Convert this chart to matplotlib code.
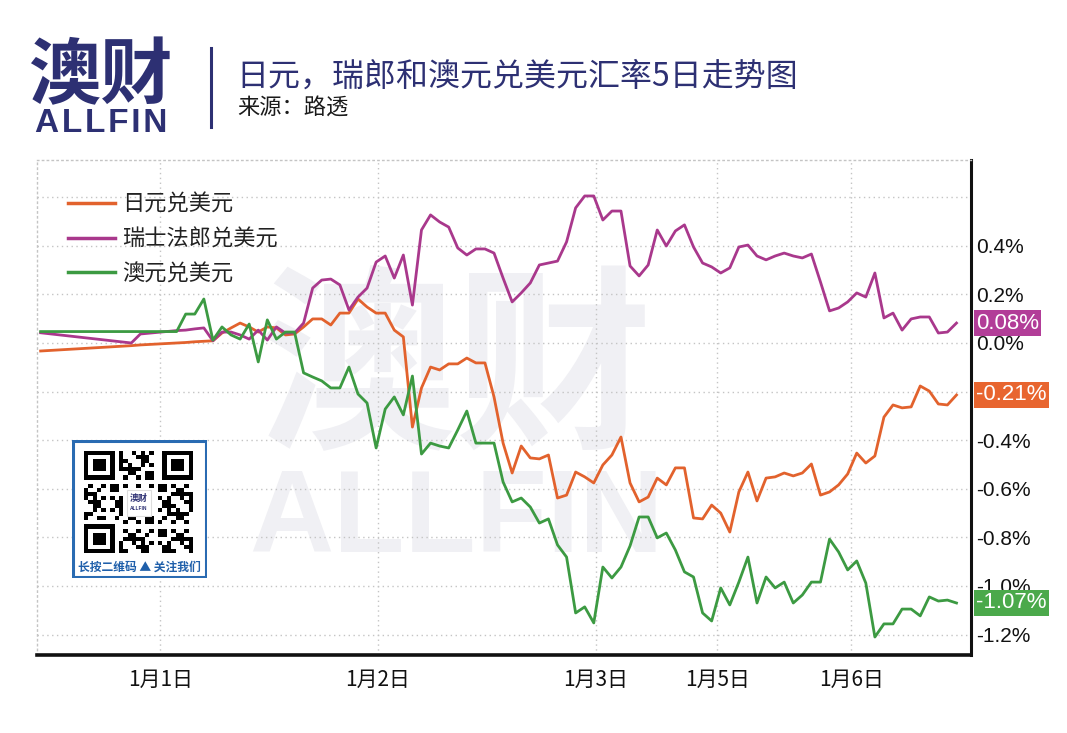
import matplotlib
matplotlib.use("Agg")
import matplotlib.pyplot as plt
import numpy as np
from matplotlib.patches import Rectangle
from matplotlib.lines import Line2D

plt.rcParams['font.family'] = ['Noto Sans CJK SC', 'DejaVu Sans']

# ---------------- data ----------------
x_pos = [-19, -9, -8, -4, -3, -2, -1] + list(range(83))

jpy = [-0.033, -0.011, -0.008, 0.000, 0.002, 0.005, 0.007,
       0.009, 0.041, 0.062, 0.082, 0.066, 0.045, 0.066, 0.062, 0.033, 0.037,
       0.066, 0.099, 0.099, 0.074, 0.123, 0.123, 0.181, 0.148, 0.123, 0.123,
       0.053, 0.025, -0.346, -0.185, -0.099, -0.111, -0.086, -0.086, -0.062, -0.082,
       -0.082, -0.222, -0.412, -0.535, -0.424, -0.473, -0.477, -0.461, -0.638, -0.626,
       -0.531, -0.551, -0.576, -0.502, -0.461, -0.387, -0.576, -0.654, -0.634, -0.556,
       -0.584, -0.514, -0.514, -0.720, -0.724, -0.667, -0.700, -0.778, -0.613, -0.531,
       -0.650, -0.556, -0.551, -0.535, -0.547, -0.535, -0.498, -0.626, -0.613, -0.584,
       -0.539, -0.453, -0.494, -0.465, -0.305, -0.255, -0.267, -0.263, -0.177, -0.198,
       -0.251, -0.255, -0.214]

chf = [0.042, 0.000, 0.037, 0.051, 0.053, 0.058, 0.062,
       0.009, 0.045, 0.045, 0.033, 0.016, 0.053, 0.012, 0.066, 0.041, 0.041,
       0.082, 0.226, 0.259, 0.263, 0.239, 0.136, 0.189, 0.226, 0.333, 0.358,
       0.267, 0.362, 0.156, 0.465, 0.527, 0.498, 0.477, 0.391, 0.362, 0.387,
       0.387, 0.370, 0.267, 0.169, 0.206, 0.247, 0.321, 0.329, 0.337, 0.416,
       0.556, 0.605, 0.605, 0.506, 0.543, 0.543, 0.317, 0.276, 0.321, 0.465,
       0.399, 0.461, 0.486, 0.395, 0.329, 0.313, 0.288, 0.309, 0.395, 0.403,
       0.358, 0.342, 0.358, 0.370, 0.358, 0.350, 0.366, 0.251, 0.132, 0.144,
       0.169, 0.206, 0.189, 0.288, 0.103, 0.123, 0.053, 0.099, 0.107, 0.107,
       0.041, 0.045, 0.082]

aud = [0.047, 0.047, 0.047, 0.047, 0.119, 0.119, 0.181,
       0.012, 0.066, 0.033, 0.016, 0.078, -0.078, 0.095, 0.016, 0.045, 0.045,
       -0.123, -0.140, -0.156, -0.185, -0.185, -0.099, -0.210, -0.247, -0.432, -0.272,
       -0.222, -0.296, -0.136, -0.457, -0.412, -0.424, -0.432, -0.358, -0.280, -0.412,
       -0.412, -0.412, -0.572, -0.654, -0.638, -0.675, -0.741, -0.724, -0.831, -0.881,
       -1.111, -1.086, -1.152, -0.922, -0.967, -0.922, -0.835, -0.716, -0.716, -0.802,
       -0.782, -0.852, -0.942, -0.963, -1.111, -1.144, -1.008, -1.078, -0.984, -0.881,
       -1.070, -0.963, -1.008, -0.984, -1.070, -1.037, -0.984, -0.984, -0.807, -0.860,
       -0.934, -0.897, -0.988, -1.210, -1.156, -1.156, -1.095, -1.095, -1.123, -1.045,
       -1.062, -1.058, -1.070]

series_names = ['日元兑美元', '瑞士法郎兑美元', '澳元兑美元']
end_labels = ['-0.21%', '0.08%', '-1.07%']
xtick_pos = [-5.8, 18.2, 42.2, 55.6, 70.4]
xtick_labels = ['1月1日', '1月2日', '1月3日', '1月5日', '1月6日']
ytick_vals = [0.6, 0.4, 0.2, 0.0, -0.2, -0.4, -0.6, -0.8, -1.0, -1.2]
ytick_labels = ['', '0.4%', '0.2%', '0.0%', '', '-0.4%', '-0.6%', '-0.8%', '-1.0%', '-1.2%']

title = '日元，瑞郎和澳元兑美元汇率5日走势图'
subtitle = '来源：路透'
logo_cn = '澳财'
logo_en = 'ALLFIN'
qr_caption = '长按二维码 ▲ 关注我们'

line_colors = ['#E2622D', '#A9388C', '#3C9A42']
box_colors = ['#E8652F', '#B23D98', '#4BA94B']
navy = '#2D3073'

# ---------------- figure ----------------
W, H = 1067, 733
fig = plt.figure(figsize=(W / 100, H / 100), dpi=100)
fig.patch.set_facecolor('white')

def fx(px):
    return px / W

def fy(py):
    return 1 - py / H

ax = fig.add_axes([fx(37), fy(655), fx(971) - fx(37), fy(160) - fy(655)])
ax.set_xlim(-19.4, 83.6)
ax.set_ylim(-1.284, 0.753)
ax.set_axisbelow(True)

for vals, c, name in zip([jpy, chf, aud], line_colors, series_names):
    ax.plot(x_pos, vals, color=c, lw=2.0, label=name, zorder=3)

# grid / ticks
grid_kw = dict(color='#c4c4c4', lw=1.0, linestyle=(0, (1, 2.5)))
ax.set_xticks(xtick_pos)
ax.set_xticklabels(xtick_labels, fontsize=15, color='#111111')
ax.set_yticks(ytick_vals)
ax.set_yticklabels(ytick_labels, fontsize=15, color='#111111',
                   family=['Liberation Sans', 'DejaVu Sans'])
ax.yaxis.tick_right()
ax.tick_params(axis='y', length=0, pad=4)
ax.tick_params(axis='x', length=0, pad=10)
ax.grid(True, **grid_kw)

for s in ['top', 'left']:
    ax.spines[s].set_color('#c4c4c4')
    ax.spines[s].set_linestyle((0, (1, 2.5)))
    ax.spines[s].set_linewidth(1.0)
ax.spines['bottom'].set_color('#111111')
ax.spines['bottom'].set_linewidth(2.6)
ax.spines['right'].set_color('#111111')
ax.spines['right'].set_linewidth(2.2)

# end-value boxes
for vals, c, lab in zip([jpy, chf, aud], box_colors, end_labels):
    ax.annotate(lab, xy=(1, vals[-1]), xycoords=('axes fraction', 'data'),
                xytext=(3.5, 0), textcoords='offset points', ha='left', va='center',
                fontsize=16, color='white', family=['Liberation Sans', 'DejaVu Sans'],
                bbox=dict(boxstyle='square,pad=0.1', fc=c, ec='none'),
                annotation_clip=False, zorder=5)

# legend
leg = ax.legend(loc='upper left', bbox_to_anchor=((68 - 37) / 934, (655 - 193) / 495),
                borderaxespad=0, borderpad=0, frameon=False, handlelength=2.1,
                handletextpad=0.35, labelspacing=0.52, fontsize=16)
for t in leg.get_texts():
    t.set_color('#222222')
for h in leg.get_lines():
    h.set_linewidth(2.5)

# watermark inside plot
ax.text(fx(456), fy(376), logo_cn, transform=fig.transFigure, ha='center', va='center',
        fontsize=142, fontweight='bold', color='#F0F0F4', zorder=0.2)
ax.text(fx(456), fy(521), logo_en, transform=fig.transFigure, ha='center', va='center',
        fontsize=84, fontweight='bold', color='#F0F0F4', zorder=0.2,
        family=['Liberation Sans', 'DejaVu Sans'])

# ---------------- header ----------------
fig.text(fx(100), fy(77), logo_cn, ha='center', va='center', fontsize=52,
         fontweight='bold', color=navy)
fig.text(fx(101), fy(123), '\u200a'.join(logo_en), ha='center', va='center', fontsize=24,
         fontweight='bold', color=navy, family=['Liberation Sans', 'DejaVu Sans'])
fig.add_artist(Line2D([fx(211), fx(211)], [fy(48), fy(127)], color=navy, lw=2.2))
fig.text(fx(236), fy(77), title, ha='left', va='center', fontsize=23,
         fontweight='medium', color=navy)
fig.text(fx(237), fy(108), subtitle, ha='left', va='center', fontsize=16,
         color='#1a1a1a')

# ---------------- QR badge ----------------
qax = fig.add_axes([fx(72), fy(578), fx(207) - fx(72), fy(440) - fy(578)])
qax.axis('off')
n = 25
ii, jj = np.mgrid[0:n, 0:n]
qr = (((ii * 31 + jj * 17 + ii * jj * 7) % 11) < 5).astype(float)
for r, c in [(0, 0), (0, 18), (18, 0)]:
    r0, r1 = max(r - 1, 0), min(r + 8, n)
    c0, c1 = max(c - 1, 0), min(c + 8, n)
    qr[r0:r1, c0:c1] = 0
    qr[r:r + 7, c:c + 7] = 1
    qr[r + 1:r + 6, c + 1:c + 6] = 0
    qr[r + 2:r + 5, c + 2:c + 5] = 1
qr[9:16, 9:16] = 0
qax.imshow(qr, cmap='Greys', vmin=0, vmax=1, extent=(12, 121, 25, 127),
           interpolation='nearest', aspect='auto', zorder=2)
qax.set_xlim(0, 135)
qax.set_ylim(0, 138)
qax.add_patch(Rectangle((1, 1), 133, 136, fc='white', ec='none', zorder=0.5))
qax.add_patch(Rectangle((1, 1), 133, 136, fc='none', ec='#2A6BB2', lw=2.2, zorder=4))
qax.add_patch(Rectangle((55, 62), 24, 26, fc='white', ec='#dddddd', lw=0.8, zorder=3))
qax.text(67, 79, logo_cn, ha='center', va='center', fontsize=6.5, fontweight='bold',
         color=navy, zorder=5)
qax.text(67, 69, logo_en, ha='center', va='center', fontsize=3.5, fontweight='bold',
         color=navy, family=['Liberation Sans', 'DejaVu Sans'], zorder=5)
qax.text(67.5, 11, qr_caption, ha='center', va='center', fontsize=8.5,
         fontweight='bold', color='#1F5FAA', zorder=5)

fig.savefig('out.png', dpi=100, facecolor='white')
